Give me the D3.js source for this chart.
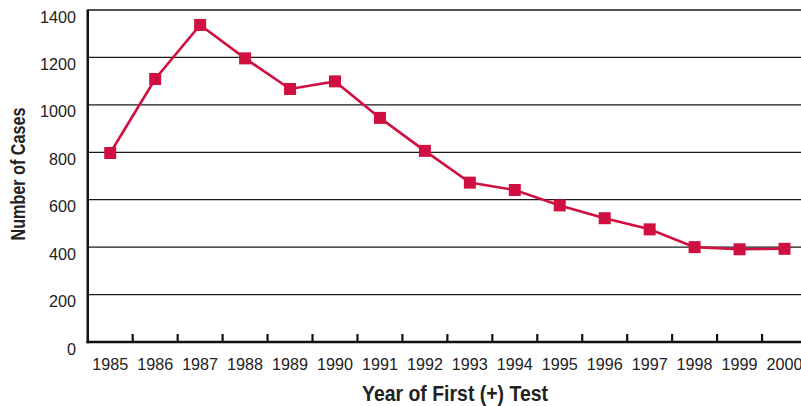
<!DOCTYPE html>
<html><head><meta charset="utf-8">
<script src="https://cdn.jsdelivr.net/npm/d3@7"></script>
<style>
html,body{margin:0;padding:0;background:#fff;}
svg{display:block;}
</style></head>
<body>
<svg id="chart" width="801" height="406"></svg>
<script>
const years = ["1985","1986","1987","1988","1989","1990","1991","1992","1993","1994","1995","1996","1997","1998","1999","2000"];
const cases = [797,1109,1337,1196,1067,1099,945,806,672,641,576,522,475,400,391,393];
const yTicks = [0,200,400,600,800,1000,1200,1400];
const xTitle = "Year of First (+) Test";
const yTitle = "Number of Cases";

const svg = d3.select("#chart");
const pLeft = 87.75, pRight = 807, pTop = 10, pBottom = 342;
const x = d3.scaleBand().domain(years).range([pLeft, pRight]).padding(0);
const y = d3.scaleLinear().domain([0,1400]).range([pBottom, pTop]);
const red = "#cf1040";
const font = "'Liberation Sans', Arial, sans-serif";

// gridlines
svg.append("g").selectAll("line").data(yTicks.filter(d=>d>0)).join("line")
  .attr("x1", pLeft).attr("x2", 801)
  .attr("y1", d=>y(d)).attr("y2", d=>y(d))
  .attr("stroke", "#1a1a1a").attr("stroke-width", 1.3);

// y tick labels
svg.append("g").selectAll("text").data(yTicks).join("text")
  .attr("x", 76).attr("y", d=>y(d)+12.5)
  .attr("text-anchor","end")
  .attr("font-family", font).attr("font-size", 16.5).attr("fill","#222")
  .attr("textLength", d=>String(d).length*9).attr("lengthAdjust","spacingAndGlyphs")
  .text(d=>d);

// x axis ticks at band boundaries
svg.append("g").selectAll("line").data(years.slice(1)).join("line")
  .attr("x1", d=>x(d)).attr("x2", d=>x(d))
  .attr("y1", pBottom).attr("y2", pBottom-8)
  .attr("stroke","#111").attr("stroke-width",2.2);

// axis lines
svg.append("line").attr("x1", pLeft).attr("x2", pLeft).attr("y1", pTop-0.5).attr("y2", pBottom+1.2)
  .attr("stroke","#111").attr("stroke-width",2.5);
svg.append("line").attr("x1", pLeft-1.2).attr("x2", 801).attr("y1", pBottom).attr("y2", pBottom)
  .attr("stroke","#111").attr("stroke-width",2.5);

// x labels
svg.append("g").selectAll("text").data(years).join("text")
  .attr("x", d=>x(d)+x.bandwidth()/2).attr("y", 370)
  .attr("text-anchor","middle")
  .attr("font-family", font).attr("font-size", 16.5).attr("fill","#222")
  .attr("textLength", 36).attr("lengthAdjust","spacingAndGlyphs")
  .text(d=>d);

// line
const pts = years.map((yr,i)=>({yr, v:cases[i]}));
svg.append("path").datum(pts)
  .attr("fill","none").attr("stroke", red).attr("stroke-width",2.6)
  .attr("d", d3.line().x(d=>x(d.yr)+x.bandwidth()/2).y(d=>y(d.v)));

svg.append("g").selectAll("rect").data(pts).join("rect")
  .attr("x", d=>x(d.yr)+x.bandwidth()/2-6).attr("y", d=>y(d.v)-6)
  .attr("width",12).attr("height",12).attr("fill", red);

// titles
svg.append("text").attr("x", 455).attr("y", 401)
  .attr("text-anchor","middle").attr("font-family", font).attr("font-weight","bold")
  .attr("font-size", 22).attr("fill","#222")
  .attr("textLength", 186).attr("lengthAdjust","spacingAndGlyphs")
  .text(xTitle);

svg.append("text").attr("transform","translate(24.5,174) rotate(-90)")
  .attr("text-anchor","middle").attr("font-family", font).attr("font-weight","bold")
  .attr("font-size", 20).attr("fill","#222")
  .attr("textLength", 133).attr("lengthAdjust","spacingAndGlyphs")
  .text(yTitle);
</script>
</body></html>
